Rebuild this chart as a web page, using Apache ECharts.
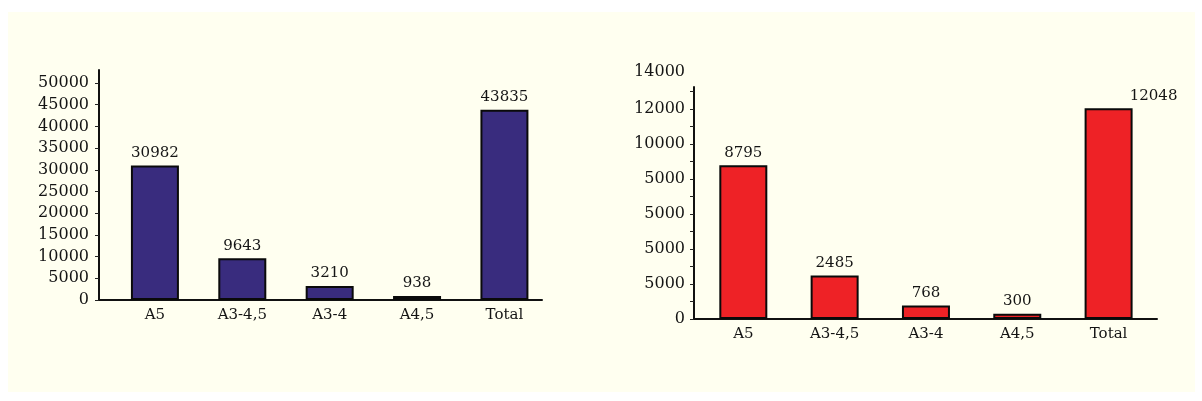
<!DOCTYPE html>
<html>
<head>
<meta charset="utf-8">
<script src="https://cdn.jsdelivr.net/npm/echarts@6/dist/echarts.min.js"></script>
<style>
  html, body { margin: 0; padding: 0; background: #ffffff; }
  #panel { position: absolute; left: 8px; top: 12px; width: 1187px; height: 380px; background: #fffff0; }
  #chart { position: absolute; left: 0; top: 0; width: 1202px; height: 401px; }
</style>
</head>
<body>
<div id="panel"></div>
<div id="chart"></div>
<script>
// Categories shared by both panels
const categories = ['A5', 'A3-4,5', 'A3-4', 'A4,5', 'Total'];

// Left panel counts
const leftValues = [30982, 9643, 3210, 938, 43835];
const leftTickValues = [0, 5000, 10000, 15000, 20000, 25000, 30000, 35000, 40000, 45000, 50000];

// Right panel counts
const rightValues = [8795, 2485, 768, 300, 12048];
const rightTickValues = [0, 2000, 4000, 6000, 8000, 10000, 12000];
const rightTickLabels = ['0', '5000', '5000', '5000', '5000', '10000', '12000'];
const rightMinorTicks = [0, 1000, 2000, 3000, 4000, 5000, 6000, 7000, 8000, 9000, 10000, 11000, 12000, 13000];
const rightTopLabel = '14000';

const FONT = 'DejaVu Serif';
const textColor = '#141414';
const lineStyle = { color: '#111', width: 2 };

function xAxisFor(gridIndex, min, max) {
  return {
    gridIndex, type: 'value', min, max,
    axisLine: { show: true, onZero: false, lineStyle },
    axisTick: { show: false },
    splitLine: { show: false },
    axisLabel: {
      customValues: categories.map((c, i) => i),
      formatter: v => categories[v] || '',
      fontFamily: FONT, fontSize: 15, color: textColor, margin: 8
    }
  };
}

function yAxisFor(gridIndex, max, tickValues, labelValues, formatter, margin) {
  return {
    gridIndex, type: 'value', min: 0, max,
    axisLine: { show: true, onZero: false, lineStyle },
    axisTick: { show: true, length: 4, customValues: tickValues, lineStyle: { color: '#222', width: 1 } },
    splitLine: { show: false },
    axisLabel: {
      customValues: labelValues,
      formatter,
      fontFamily: FONT, fontSize: 16, color: textColor, margin
    }
  };
}

function barSeries(idx, values, color, labelOverrides) {
  return {
    type: 'bar', xAxisIndex: idx, yAxisIndex: idx,
    barWidth: 48,
    data: values.map((v, i) => {
      const item = { value: [i, v] };
      if (labelOverrides && labelOverrides[i]) item.label = labelOverrides[i];
      return item;
    }),
    itemStyle: { color, borderColor: '#0a0a0a', borderWidth: 2 },
    label: {
      show: true, position: 'top', distance: 5,
      formatter: p => String(p.value[1]),
      fontFamily: FONT, fontSize: 15, color: textColor
    }
  };
}

const leftY = yAxisFor(0, 53000, leftTickValues, leftTickValues, v => String(v), 10);
const rightY = yAxisFor(1, 13270, rightMinorTicks, rightTickValues,
  v => rightTickLabels[rightTickValues.indexOf(v)], 9);
// The top figure sits just above the end of the right axis line
Object.assign(rightY, {
  name: rightTopLabel, nameLocation: 'end', nameGap: 7,
  nameTextStyle: { fontFamily: FONT, fontSize: 16, color: textColor, align: 'right', padding: [0, 9, 0, 0] }
});

const chart = echarts.init(document.getElementById('chart'), null, { renderer: 'canvas' });
chart.setOption({
  animation: false,
  backgroundColor: 'transparent',
  grid: [
    { left: 99, top: 70, width: 443, height: 230 },
    { left: 694, top: 87, width: 463, height: 232 }
  ],
  xAxis: [
    xAxisFor(0, -0.64, 4.43),
    xAxisFor(1, -0.54, 4.53)
  ],
  yAxis: [leftY, rightY],
  series: [
    barSeries(0, leftValues, '#392c7e'),
    barSeries(1, rightValues, '#ee2226', { 4: { offset: [45, 0] } })
  ]
});
</script>
</body>
</html>
